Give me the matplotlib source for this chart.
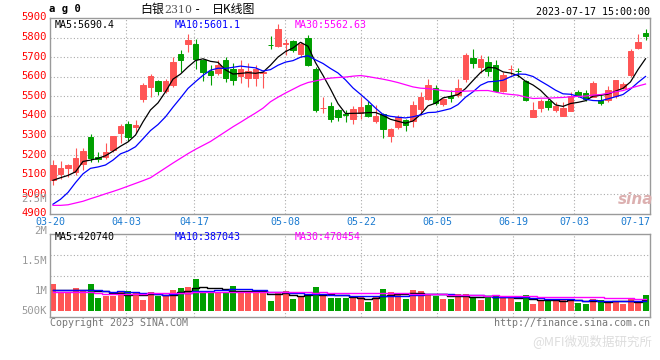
import matplotlib
matplotlib.use("Agg")
import matplotlib.pyplot as plt
import matplotlib.transforms as mtransforms
import numpy as np
import pandas as pd

# trading days shown on the chart
dates = [
    "03-20", "03-21", "03-22", "03-23", "03-24", "03-27", "03-28", "03-29", "03-30", "03-31",
    "04-03", "04-04", "04-06", "04-07", "04-10", "04-11", "04-12", "04-13", "04-14", "04-17",
    "04-18", "04-19", "04-20", "04-21", "04-24", "04-25", "04-26", "04-27", "04-28",
    "05-04", "05-05", "05-08", "05-09", "05-10", "05-11", "05-12", "05-15", "05-16", "05-17",
    "05-18", "05-19", "05-22", "05-23", "05-24", "05-25", "05-26", "05-29", "05-30", "05-31",
    "06-01", "06-02", "06-05", "06-06", "06-07", "06-08", "06-09", "06-12", "06-13", "06-14",
    "06-15", "06-16", "06-19", "06-20", "06-21", "06-26", "06-27", "06-28", "06-29", "06-30",
    "07-03", "07-04", "07-05", "07-06", "07-07", "07-10", "07-11", "07-12", "07-13", "07-14",
    "07-17",
]
label_dates = ["03-20", "04-03", "04-17", "05-08", "05-22", "06-05", "06-19", "07-03", "07-17"]

opens = [5073, 5105, 5136, 5116, 5155, 5292, 5192, 5192, 5226, 5311,
         5357, 5345, 5489, 5549, 5579, 5526, 5557, 5715, 5766, 5766,
         5685, 5628, 5620, 5685, 5639, 5605, 5596, 5594, 5617, 5762,
         5758, 5768, 5781, 5718, 5800, 5642, 5440, 5452, 5430, 5409,
         5384, 5413, 5455, 5374, 5408, 5299, 5345, 5379, 5374, 5435,
         5486, 5543, 5459, 5503, 5509, 5588, 5696, 5650, 5673, 5659,
         5526, 5638, 5631, 5579, 5396, 5442, 5476, 5430, 5401, 5426,
         5523, 5515, 5498, 5481, 5481, 5503, 5543, 5611, 5747, 5825]
highs = [5175, 5172, 5156, 5235, 5238, 5308, 5218, 5260, 5300, 5357,
         5374, 5379, 5566, 5612, 5583, 5591, 5701, 5735, 5820, 5791,
         5693, 5659, 5685, 5700, 5668, 5685, 5668, 5662, 5628, 5807,
         5871, 5795, 5786, 5778, 5812, 5650, 5498, 5472, 5438, 5430,
         5452, 5498, 5476, 5455, 5413, 5340, 5404, 5387, 5476, 5520,
         5588, 5557, 5494, 5532, 5591, 5723, 5744, 5710, 5705, 5685,
         5625, 5662, 5647, 5583, 5469, 5489, 5498, 5469, 5469, 5523,
         5532, 5532, 5578, 5510, 5554, 5584, 5571, 5744, 5820, 5842]
lows = [5048, 5078, 5087, 5099, 5123, 5166, 5166, 5180, 5218, 5260,
        5272, 5311, 5472, 5498, 5506, 5515, 5549, 5625, 5724, 5642,
        5578, 5560, 5610, 5572, 5557, 5570, 5549, 5555, 5543, 5741,
        5753, 5710, 5727, 5701, 5655, 5418, 5413, 5367, 5374, 5370,
        5359, 5387, 5396, 5362, 5289, 5269, 5336, 5323, 5345, 5404,
        5481, 5455, 5452, 5469, 5498, 5571, 5645, 5617, 5605, 5520,
        5520, 5611, 5600, 5476, 5396, 5418, 5430, 5421, 5401, 5425,
        5498, 5476, 5498, 5455, 5472, 5493, 5537, 5600, 5744, 5786]
closes = [5150, 5136, 5150, 5184, 5221, 5184, 5180, 5218, 5299, 5348,
          5294, 5353, 5557, 5603, 5528, 5577, 5676, 5685, 5786, 5690,
          5622, 5611, 5659, 5595, 5583, 5639, 5630, 5642, 5625, 5760,
          5846, 5770, 5735, 5769, 5659, 5430, 5443, 5387, 5396, 5407,
          5435, 5447, 5401, 5399, 5333, 5336, 5396, 5353, 5455, 5498,
          5557, 5464, 5489, 5493, 5543, 5710, 5671, 5690, 5628, 5526,
          5611, 5640, 5629, 5481, 5430, 5476, 5447, 5450, 5442, 5503,
          5506, 5489, 5566, 5464, 5532, 5583, 5561, 5730, 5778, 5808]
volumes = [1090e3, 775e3, 706e3, 926e3, 816e3, 1090e3, 518e3, 612e3, 612e3, 747e3,
           804e3, 706e3, 437e3, 763e3, 600e3, 612e3, 845e3, 926e3, 967e3, 1294e3,
           804e3, 735e3, 763e3, 763e3, 1008e3, 763e3, 763e3, 763e3, 816e3, 396e3,
           763e3, 804e3, 477e3, 543e3, 682e3, 967e3, 600e3, 518e3, 518e3, 530e3,
           543e3, 543e3, 355e3, 584e3, 886e3, 763e3, 722e3, 477e3, 845e3, 804e3,
           653e3, 612e3, 477e3, 477e3, 682e3, 682e3, 571e3, 437e3, 543e3, 641e3,
           584e3, 518e3, 355e3, 641e3, 273e3, 420e3, 437e3, 408e3, 477e3, 490e3,
           314e3, 273e3, 490e3, 437e3, 355e3, 355e3, 273e3, 477e3, 355e3, 641e3]

# moving-average values before a full window exists
ma5_head = [5072, 5085, 5097, 5115]
ma10_head = [4950, 4975, 5010, 5060, 5105, 5133, 5140, 5150, 5175]
ma30_head = [4944, 4944, 4947, 4956, 4965, 4978, 4990, 5003, 5015, 5028,
             5042, 5056, 5070, 5085, 5110, 5135, 5160, 5184, 5208, 5230,
             5250, 5270, 5295, 5320, 5345, 5368, 5392, 5415, 5440]
vma5_head = [850e3, 835e3, 830e3, 830e3]
vma10_head = [860e3, 860e3, 850e3, 845e3, 840e3, 840e3, 830e3, 800e3, 780e3]
vma30_head = [750e3, 750e3, 750e3, 750e3, 745e3, 745e3, 740e3, 700e3, 700e3, 700e3,
              700e3, 700e3, 700e3, 710e3, 710e3, 710e3, 710e3, 715e3, 720e3, 780e3,
              780e3, 780e3, 780e3, 780e3, 780e3, 780e3, 780e3, 780e3, 780e3]

price_legend = ["MA5:5690.4", "MA10:5601.1", "MA30:5562.63"]
vol_legend = ["MA5:420740", "MA10:387043", "MA30:470454"]
vol_labels = ["2M", "1.5M", "1M", "500K"]

RED = "#ff5555"
GREEN = "#009f00"
MA_COLORS = ["black", "#0000ff", "#ff00ff"]
GRID = dict(color="#aaaaaa", lw=0.8, linestyle=(0, (1, 2)), zorder=0)
MONO = "DejaVu Sans Mono"
CJK = ["Noto Sans CJK SC", "DejaVu Sans"]


def moving_average(values, n, head):
    ma = pd.Series(values, dtype=float).rolling(n).mean().to_numpy()
    ma[: len(head)] = head
    return ma


W, H = 660, 360


def box(x0, y0, x1, y1):
    return [x0 / W, 1 - y1 / H, (x1 - x0) / W, (y1 - y0) / H]


fig = plt.figure(figsize=(6.6, 3.6), dpi=100)
ax = fig.add_axes(box(50, 18, 650, 214))
axv = fig.add_axes(box(50, 234, 650, 317.3))

x = np.arange(len(dates))
o, h, l, c = map(np.array, (opens, highs, lows, closes))
colors = np.where(c >= o, RED, GREEN)

# candles
ax.vlines(x, l, h, colors=colors, lw=0.8, zorder=2)
ax.bar(x, np.abs(c - o), bottom=np.minimum(o, c), width=0.7,
       color=colors, edgecolor=colors, linewidth=0.7, zorder=3)

for n, head, col in zip((5, 10, 30), (ma5_head, ma10_head, ma30_head), MA_COLORS):
    ax.plot(x, moving_average(closes, n, head), color=col, lw=0.9, zorder=4)

# volume
vol = np.array(volumes)
axv.bar(x, vol, width=0.8, color=colors, linewidth=0, zorder=2)
for n, head, col in zip((5, 10, 30), (vma5_head, vma10_head, vma30_head), MA_COLORS):
    axv.plot(x, moving_average(volumes, n, head), color=col, lw=1.0,
             drawstyle="steps-mid", zorder=3)

# axes limits: candle 0 sits 3px inside the frame, 7.5px per day
xlim = (-0.4, 79.6)
for a in (ax, axv):
    a.set_xlim(*xlim)
    for s in a.spines.values():
        s.set_color("#9a9a9a")
        s.set_linewidth(1.0)
    a.tick_params(length=0)

ax.set_ylim(4900, 5900)
px_vol = 40816  # volume per pixel
axv.set_ylim(-(317.3 - 310.7) * px_vol, (310.7 - 234) * px_vol)

# date grid is spread evenly over the frame
idx = np.array([dates.index(d) for d in label_dates])
gx = xlim[0] + (xlim[1] - xlim[0]) * idx / (len(dates) - 1)
for a in (ax, axv):
    for g in gx[1:-1]:
        a.axvline(g, **GRID)
for p in range(5000, 5900, 100):
    ax.axhline(p, **GRID)
for f in (0.744, 0.4994):
    axv.plot([0, 1], [f, f], transform=axv.transAxes, **GRID)

ax.set_xticks(gx, label_dates)
for t in ax.get_xticklabels():
    t.set_color("#1a7ad0")
    t.set_fontfamily(MONO)
    t.set_fontsize(7.2)
ax.get_xticklabels()[-1].set_ha("right")
ax.tick_params(axis="x", pad=2.5)

ax.set_yticks(range(4900, 6000, 100))
ax.tick_params(axis="y", pad=2.2, labelcolor="red", labelsize=7.6)
up = mtransforms.ScaledTranslation(0, 1.5 / 100, fig.dpi_scale_trans)
for t in ax.get_yticklabels():
    t.set_fontfamily(MONO)
    t.set_transform(t.get_transform() + up)

axv.set_xticks([])
axv.set_yticks([])
for lab, y in zip(vol_labels, (230.7, 260.7, 290.7, 310.7)):
    fig.text(47 / W, 1 - y / H, lab, ha="right", va="center", color="#999999",
             fontsize=7.6, family=MONO)
fig.text(47 / W, 1 - 199 / H, "2.5M", ha="right", va="center", color="#999999",
         fontsize=7.6, family=MONO)

# legends inside panels
for txt, xp, col in zip(price_legend, (55, 175, 295), MA_COLORS):
    fig.text(xp / W, 1 - 24.5 / H, txt, color=col, fontsize=7.2, family=MONO, va="center")
for txt, xp, col in zip(vol_legend, (55, 175, 295), MA_COLORS):
    fig.text(xp / W, 1 - 237.5 / H, txt, color=col, fontsize=7.2, family=MONO, va="center")

# headers and footers
fig.text(49 / W, 1 - 9.5 / H, "a g 0", fontsize=7.6, family=MONO, weight="bold", va="center")
fig.text(140 / W, 1 - 9.5 / H, "白银", fontsize=8.6, family=CJK, va="center")
fig.text(164 / W, 1 - 10 / H, "2310", fontsize=7.8, family="DejaVu Serif",
         color="#555555", va="center")
fig.text(197 / W, 1 - 9.5 / H, "-", fontsize=8.6, family=MONO, ha="center", va="center")
fig.text(212 / W, 1 - 9.5 / H, "日K线图", fontsize=8.6, family=CJK, va="center")
fig.text(650 / W, 1 - 12 / H, "2023-07-17 15:00:00", fontsize=7.2, family=MONO,
         ha="right", va="center")
fig.text(50 / W, 1 - 323.5 / H, "Copyright 2023 SINA.COM", fontsize=7.2, family=MONO,
         color="#777777", va="center")
fig.text(650 / W, 1 - 323.5 / H, "http://finance.sina.com.cn", fontsize=7.2, family=MONO,
         color="#777777", va="center", ha="right")

# watermarks
fig.text(636 / W, 1 - 199 / H, "sina", fontsize=11, style="italic", weight="bold",
         color="#dcb0b0", ha="center", va="center")
fig.text(652 / W, 1 - 341 / H, "@MFI微观数据研究所", fontsize=9, family=CJK,
         color="#dddddd", ha="right", va="center")

fig.savefig("out.png", dpi=100)
